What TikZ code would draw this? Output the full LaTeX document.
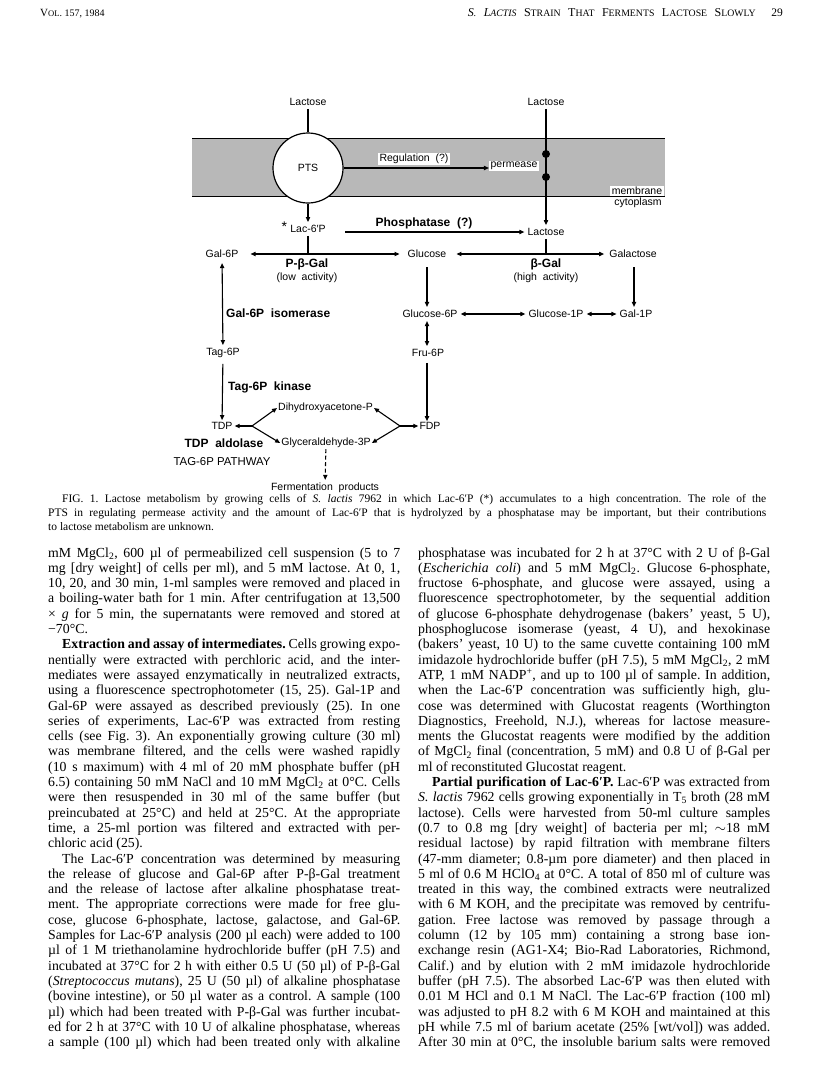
\documentclass[tikz,border=0pt]{standalone}
\usepackage{fontspec}
\setmainfont{Liberation Serif}
\setsansfont{Liberation Sans}
\usetikzlibrary{arrows.meta}
\frenchspacing
\newlength\colw
\setlength\colw{352pt}
\newcommand\J[1]{\hbox to\colw{#1}}
\newcommand\E[1]{\hbox to\colw{#1\hfil}}
\newcommand\I[1]{\hbox to\colw{\hskip14pt #1}}
\newcommand\hsc[2]{{\fontsize{11}{11}\selectfont #1}{\fontsize{8.6}{8.6}\selectfont #2}}
\newcommand\hsb[2]{{\fontsize{12}{12}\selectfont #1}{\fontsize{9.8}{9.8}\selectfont #2}}
\tikzset{
  lbl/.style={font=\fontsize{10.5}{12}\selectfont\sffamily, inner sep=3pt},
  enz/.style={font=\fontsize{12}{14}\selectfont\sffamily\bfseries, inner sep=1pt},
  wbox/.style={lbl, fill=white, inner sep=1.5pt},
  tip/.tip={Triangle[length=5pt,width=4.2pt]},
  ln/.style={line width=1.1pt},
  arr/.style={ln, -tip},
  darr/.style={ln, tip-tip},
  dotn/.style={circle, fill=black, inner sep=0pt, minimum size=8pt},
  body/.style={inner sep=0pt, anchor=base west, font=\fontsize{13.8}{15.3}\selectfont},
}
\begin{document}
\begin{tikzpicture}[x=1pt,y=-1pt]
\useasboundingbox (0,0) rectangle (816,1080);
\fill[white] (0,0) rectangle (816,1080);

% header
\node[inner sep=0pt, anchor=base west] (hl) at (40,16) {\hsc{V}{OL}. 157, 1984};
\node[inner sep=0pt, anchor=base east] (hr) at (756,16) {\hbox to 288pt{\textit{\hsb{S}{.} \hsb{L}{ACTIS}} \hsb{S}{TRAIN} \hsb{T}{HAT} \hsb{F}{ERMENTS} \hsb{L}{ACTOSE} \hsb{S}{LOWLY}}};
\node[inner sep=0pt, anchor=base east] (pg) at (783,16) {\fontsize{11.5}{11.5}\selectfont 29};

% membrane band
\fill[black!28] (192,138) rectangle (665,196);
\draw[line width=1pt] (192,138) -- (665,138);
\draw[line width=1pt] (192,196) -- (665,196);

% nodes
\node[lbl] (lacL) at (308,102) {Lactose};
\node[lbl] (lacR) at (546,102) {Lactose};
\node[circle, draw, fill=white, line width=1.2pt, minimum size=70pt, inner sep=0pt, font=\fontsize{10.5}{12}\selectfont\sffamily] (pts) at (308,168) {PTS};
\node[wbox] (reg) at (414,159) {Regulation~~(?)};
\node[wbox] (perm) at (514,166) {permease};
\node[wbox] (memb) at (637,191) {membrane};
\node[lbl, inner sep=1pt] (cyto) at (638,203) {cytoplasm};
\node[lbl, label={[lbl, inner sep=0pt, font=\fontsize{14}{14}\selectfont\sffamily, name=ast, yshift=2pt]left:*}] (lac6p) at (308,229) {Lac-6′P};
\node[lbl] (lacM) at (546,232) {Lactose};
\node[enz] (phos) at (424,223) {Phosphatase~~(?)};
\node[lbl] (gal6p) at (222,254) {Gal-6P};
\node[lbl] (glc) at (427,254) {Glucose};
\node[lbl] (galac) at (633,254) {Galactose};
\node[enz] (pbgal) at (307,264) {P-β-Gal};
\node[lbl, inner sep=1pt] (lowact) at (307,278) {(low~~activity)};
\node[enz] (bgal) at (546,264) {β-Gal};
\node[lbl, inner sep=1pt] (highact) at (546,278) {(high~~activity)};
\node[enz, anchor=west] (galiso) at (225,313) {Gal-6P~~isomerase};
\node[lbl] (g6p) at (430,314) {Glucose-6P};
\node[lbl] (g1p) at (556,314) {Glucose-1P};
\node[lbl] (gal1p) at (636,314) {Gal-1P};
\node[lbl] (tag6p) at (223,353) {Tag-6P};
\node[lbl] (fru6p) at (428,353) {Fru-6P};
\node[enz, anchor=west] (tagkin) at (227,387) {Tag-6P~~kinase};
\node[lbl, inner sep=2pt] (tdp) at (222,426) {TDP};
\node[lbl, inner sep=1pt] (fdp) at (430,426) {FDP};
\node[lbl, inner sep=1pt] (dhap) at (325.5,408) {Dihydroxyacetone-P};
\node[lbl, inner sep=1pt] (g3p) at (326,443) {Glyceraldehyde-3P};
\node[enz] (tdpald) at (224,443) {TDP~~aldolase};
\node[font=\fontsize{11.4}{13}\selectfont\sffamily, inner sep=1pt] (tagpath) at (222,462) {TAG-6P PATHWAY};
\node[lbl] (ferm) at (325,488) {Fermentation~~products};

\coordinate (phs) at (345,232);
\coordinate (j1) at (308,254);
\coordinate (j2) at (546,254);
\coordinate (bl) at (252,426);
\coordinate (br) at (400,426);

% connectors
\draw[ln] (lacL) -- (pts);
\draw[arr] (pts) -- (lac6p);
\draw[arr] (pts.east) -- (pts.east -| perm.west);
\draw[arr] (lacR) -- (lacM);
\node[dotn] (d1) at (546,154) {};
\node[dotn] (d2) at (546,177) {};
\draw[arr] (phs) -- (lacM);
\draw[ln] (lac6p) -- (j1);
\draw[arr, shorten >=9pt] (j1) -- (gal6p);
\draw[arr, shorten >=5pt] (j1) -- (glc);
\draw[ln] (lacM) -- (j2);
\draw[arr, shorten >=7pt] (j2) -- (glc);
\draw[arr, shorten >=2pt] (j2) -- (galac);
\draw[arr, shorten <=6pt] (glc.south) -- (glc.south |- g6p.north);
\draw[arr, shorten <=6pt] (galac.south -| 634,0) -- (634,0 |- gal1p.north);
\draw[darr] (g6p) -- (g1p);
\draw[darr] (g1p) -- (gal1p);
\draw[darr] (427,0 |- g6p.south) -- (427,0 |- fru6p.north);
\draw[arr, shorten <=3pt] (427,0 |- fru6p.south) -- (427,0 |- fdp.north);
\draw[darr, shorten <=2pt] (gal6p) -- (tag6p);
\draw[arr, shorten <=3pt] (tag6p) -- (tdp);
\draw[arr] (bl) -- (tdp);
\draw[arr] (bl) -- (dhap.west);
\draw[arr] (bl) -- (g3p.west);
\draw[arr] (br) -- (fdp);
\draw[arr] (br) -- (dhap.east);
\draw[arr] (br) -- (g3p.east);
\draw[arr, dashed, dash pattern=on 4pt off 2.5pt] (g3p) -- (ferm);

% caption
\node[inner sep=0pt, anchor=base west] (cap) at (48,502) {\vtop{\fontsize{11.5}{14}\selectfont\setlength\colw{718pt}%
\I{FIG. 1. Lactose metabolism by growing cells of \textit{S. lactis} 7962 in which Lac-6′P (*) accumulates to a high concentration. The role of the}
\J{PTS in regulating permease activity and the amount of Lac-6′P that is hydrolyzed by a phosphatase may be important, but their contributions}
\E{to lactose metabolism are unknown.}}};

% left column
\node[body] (colL) at (48,557) {\vtop{\fontsize{13.8}{15.3}\selectfont
\J{mM MgCl\textsubscript{2}, 600 µl of permeabilized cell suspension (5 to 7}
\J{mg [dry weight] of cells per ml), and 5 mM lactose. At 0, 1,}
\J{10, 20, and 30 min, 1-ml samples were removed and placed in}
\J{a boiling-water bath for 1 min. After centrifugation at 13,500}
\J{× \textit{g} for 5 min, the supernatants were removed and stored at}
\E{−70°C.}
\I{\textbf{Extraction and assay of intermediates.} Cells growing expo-}
\J{nentially were extracted with perchloric acid, and the inter-}
\J{mediates were assayed enzymatically in neutralized extracts,}
\J{using a fluorescence spectrophotometer (15, 25). Gal-1P and}
\J{Gal-6P were assayed as described previously (25). In one}
\J{series of experiments, Lac-6′P was extracted from resting}
\J{cells (see Fig. 3). An exponentially growing culture (30 ml)}
\J{was membrane filtered, and the cells were washed rapidly}
\J{(10 s maximum) with 4 ml of 20 mM phosphate buffer (pH}
\J{6.5) containing 50 mM NaCl and 10 mM MgCl\textsubscript{2} at 0°C. Cells}
\J{were then resuspended in 30 ml of the same buffer (but}
\J{preincubated at 25°C) and held at 25°C. At the appropriate}
\J{time, a 25-ml portion was filtered and extracted with per-}
\E{chloric acid (25).}
\I{The Lac-6′P concentration was determined by measuring}
\J{the release of glucose and Gal-6P after P-β-Gal treatment}
\J{and the release of lactose after alkaline phosphatase treat-}
\J{ment. The appropriate corrections were made for free glu-}
\J{cose, glucose 6-phosphate, lactose, galactose, and Gal-6P.}
\J{Samples for Lac-6′P analysis (200 µl each) were added to 100}
\J{µl of 1 M triethanolamine hydrochloride buffer (pH 7.5) and}
\J{incubated at 37°C for 2 h with either 0.5 U (50 µl) of P-β-Gal}
\J{(\textit{Streptococcus mutans}), 25 U (50 µl) of alkaline phosphatase}
\J{(bovine intestine), or 50 µl water as a control. A sample (100}
\J{µl) which had been treated with P-β-Gal was further incubat-}
\J{ed for 2 h at 37°C with 10 U of alkaline phosphatase, whereas}
\J{a sample (100 µl) which had been treated only with alkaline}}};

% right column
\node[body] (colR) at (418,557) {\vtop{\fontsize{13.8}{15.3}\selectfont
\J{phosphatase was incubated for 2 h at 37°C with 2 U of β-Gal}
\J{(\textit{Escherichia coli}) and 5 mM MgCl\textsubscript{2}. Glucose 6-phosphate,}
\J{fructose 6-phosphate, and glucose were assayed, using a}
\J{fluorescence spectrophotometer, by the sequential addition}
\J{of glucose 6-phosphate dehydrogenase (bakers' yeast, 5 U),}
\J{phosphoglucose isomerase (yeast, 4 U), and hexokinase}
\J{(bakers' yeast, 10 U) to the same cuvette containing 100 mM}
\J{imidazole hydrochloride buffer (pH 7.5), 5 mM MgCl\textsubscript{2}, 2 mM}
\J{ATP, 1 mM NADP\textsuperscript{+}, and up to 100 µl of sample. In addition,}
\J{when the Lac-6′P concentration was sufficiently high, glu-}
\J{cose was determined with Glucostat reagents (Worthington}
\J{Diagnostics, Freehold, N.J.), whereas for lactose measure-}
\J{ments the Glucostat reagents were modified by the addition}
\J{of MgCl\textsubscript{2} final (concentration, 5 mM) and 0.8 U of β-Gal per}
\E{ml of reconstituted Glucostat reagent.}
\I{\textbf{Partial purification of Lac-6′P.} Lac-6′P was extracted from}
\J{\textit{S. lactis} 7962 cells growing exponentially in T\textsubscript{5} broth (28 mM}
\J{lactose). Cells were harvested from 50-ml culture samples}
\J{(0.7 to 0.8 mg [dry weight] of bacteria per ml; $\sim$18 mM}
\J{residual lactose) by rapid filtration with membrane filters}
\J{(47-mm diameter; 0.8-µm pore diameter) and then placed in}
\J{5 ml of 0.6 M HClO\textsubscript{4} at 0°C. A total of 850 ml of culture was}
\J{treated in this way, the combined extracts were neutralized}
\J{with 6 M KOH, and the precipitate was removed by centrifu-}
\J{gation. Free lactose was removed by passage through a}
\J{column (12 by 105 mm) containing a strong base ion-}
\J{exchange resin (AG1-X4; Bio-Rad Laboratories, Richmond,}
\J{Calif.) and by elution with 2 mM imidazole hydrochloride}
\J{buffer (pH 7.5). The absorbed Lac-6′P was then eluted with}
\J{0.01 M HCl and 0.1 M NaCl. The Lac-6′P fraction (100 ml)}
\J{was adjusted to pH 8.2 with 6 M KOH and maintained at this}
\J{pH while 7.5 ml of barium acetate (25\% [wt/vol]) was added.}
\J{After 30 min at 0°C, the insoluble barium salts were removed}}};
\end{tikzpicture}
\end{document}
